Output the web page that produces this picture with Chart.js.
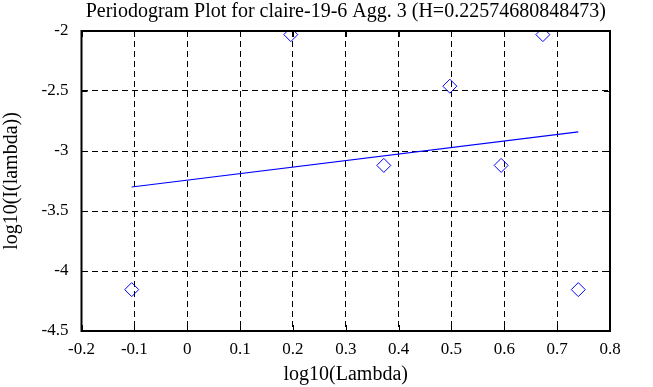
<!DOCTYPE html>
<html>
<head>
<meta charset="utf-8">
<script src="https://cdn.jsdelivr.net/npm/chart.js@4"></script>
<style>
  html, body { margin: 0; padding: 0; background: #fff; }
  #wrap { width: 653px; height: 387px; }
</style>
</head>
<body>
<div id="wrap"><canvas id="pgram"></canvas></div>
<script>
// data
const logLambda = [-0.105, 0.196, 0.372, 0.497, 0.594, 0.673, 0.740]
const logI = [-4.155, -2.03, -3.12, -2.46, -3.12, -2.03, -4.155]
const fitX = [-0.105, 0.740]
const fitY = [-3.30, -2.84]
const xTicks = [-0.2, -0.1, 0, 0.1, 0.2, 0.3, 0.4, 0.5, 0.6, 0.7, 0.8]
const yTicks = [-4.5, -4, -3.5, -3, -2.5, -2]

const serif = 'Liberation Serif, Times New Roman, serif'

//! marco y ticks hacia dentro, estilo matlab
const frame = {
    id: 'frame',
    afterDraw(chart) {
        const {ctx, chartArea: a, scales} = chart
        ctx.save()
        ctx.strokeStyle = '#000'
        ctx.lineWidth = 1
        ctx.beginPath()
        xTicks.forEach(v => {
            const px = Math.round(scales.x.getPixelForValue(v)) + 0.5
            ctx.moveTo(px, a.bottom); ctx.lineTo(px, a.bottom - 6)
            ctx.moveTo(px, a.top); ctx.lineTo(px, a.top + 6)
        })
        yTicks.forEach(v => {
            const py = Math.round(scales.y.getPixelForValue(v)) + 0.5
            ctx.moveTo(a.left, py); ctx.lineTo(a.left + 6, py)
            ctx.moveTo(a.right, py); ctx.lineTo(a.right - 6, py)
        })
        ctx.stroke()
        ctx.lineWidth = 2
        ctx.strokeRect(a.left, a.top, a.right - a.left, a.bottom - a.top)
        ctx.restore()
    }
}

const chart = new Chart(document.getElementById('pgram'), {
    type: 'scatter',
    data: {
        datasets: [
            {
                label: 'periodogram',
                data: logLambda.map((x, i) => ({x, y: logI[i]})),
                pointStyle: 'rectRot',
                pointRadius: 7,
                pointBorderWidth: 1,
                borderColor: '#0000ff',
                backgroundColor: 'rgba(0,0,0,0)',
                showLine: false
            },
            {
                label: 'fit',
                data: fitX.map((x, i) => ({x, y: fitY[i]})),
                showLine: true,
                pointRadius: 0,
                borderColor: '#0000ff',
                borderWidth: 1.2
            }
        ]
    },
    options: {
        responsive: true,
        maintainAspectRatio: false,
        animation: false,
        layout: {padding: {left: 0, right: 43, top: 0, bottom: 0}},
        plugins: {
            legend: {display: false},
            tooltip: {enabled: false},
            title: {
                display: true,
                fullSize: false,
                text: 'Periodogram Plot for claire-19-6 Agg. 3 (H=0.22574680848473)',
                color: '#000',
                font: {family: serif, size: 20, weight: 'normal'},
                padding: {top: 0, bottom: 7}
            }
        },
        scales: {
            x: {
                type: 'linear',
                min: -0.2,
                max: 0.8,
                afterBuildTicks: s => { s.ticks = xTicks.map(v => ({value: v})) },
                afterFit: s => { s.height = 56 },
                ticks: {
                    color: '#000',
                    font: {family: serif, size: 17},
                    padding: 8,
                    maxRotation: 0,
                    callback: v => String(Math.round(v * 10) / 10)
                },
                grid: {color: '#000', lineWidth: 1, drawTicks: false},
                border: {display: false, dash: [6, 4]},
                title: {
                    display: true,
                    text: 'log10(Lambda)',
                    color: '#000',
                    font: {family: serif, size: 20},
                    padding: {top: 0, bottom: 0}
                }
            },
            y: {
                type: 'linear',
                min: -4.5,
                max: -2,
                afterBuildTicks: s => { s.ticks = yTicks.map(v => ({value: v})) },
                afterFit: s => { s.width = 81.5 },
                ticks: {
                    color: '#000',
                    font: {family: serif, size: 17},
                    padding: 13,
                    callback: v => String(Math.round(v * 10) / 10)
                },
                grid: {color: '#000', lineWidth: 1, drawTicks: false},
                border: {display: false, dash: [6, 4]},
                title: {
                    display: true,
                    text: 'log10(I(lambda))',
                    color: '#000',
                    font: {family: serif, size: 20},
                    padding: {top: 0, bottom: 0}
                }
            }
        }
    },
    plugins: [frame]
})
</script>
</body>
</html>
